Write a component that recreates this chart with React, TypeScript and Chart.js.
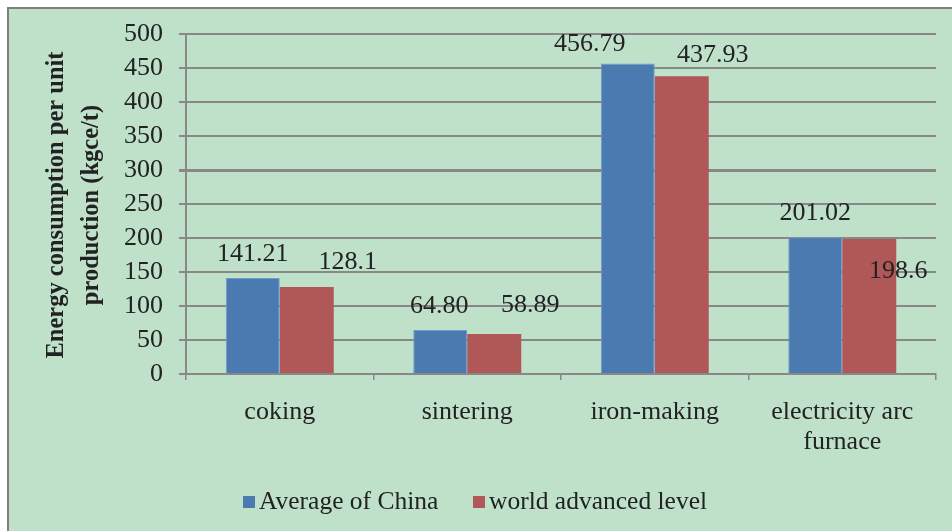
import React, { useEffect, useRef } from "react";
import { Chart, registerables } from "chart.js";

Chart.register(...registerables);

const categories: string[][] = [["coking"], ["sintering"], ["iron-making"], ["electricity arc", "furnace"]];
const seriesNames = ["Average of China", "world advanced level"];
const chinaValues = [141.21, 64.8, 456.79, 201.02];
const worldValues = [128.1, 58.89, 437.93, 198.6];
const chinaText = ["141.21", "64.80", "456.79", "201.02"];
const worldText = ["128.1", "58.89", "437.93", "198.6"];
const yMin = 0;
const yMax = 500;
const yStep = 50;
const yTitle = ["Energy consumption per unit", "production (kgce/t)"];

// label placement (style/layout, relative to bar top centre)
const chinaLabelDx = [0, -1, -38, 0];
const chinaLabelDy = [-24, -24, -19, -24];
const worldLabelDx = [41, 36, 31, 29];
const worldLabelDy = [-25, -29, -21, 32];

const BLUE = "#4a7aaf";
const RED = "#b05757";
const SERIF = '"Liberation Serif", "Times New Roman", serif';
const TEXT = "#222222";

const overlay = {
  id: "overlay",
  afterDatasetsDraw(chart: any) {
    const ctx = chart.ctx;
    ctx.save();
    // data labels
    ctx.font = `26px ${SERIF}`;
    ctx.fillStyle = TEXT;
    ctx.textAlign = "center";
    ctx.textBaseline = "middle";
    const sets = [
      { text: chinaText, dx: chinaLabelDx, dy: chinaLabelDy },
      { text: worldText, dx: worldLabelDx, dy: worldLabelDy },
    ];
    sets.forEach((s, di) => {
      const meta = chart.getDatasetMeta(di);
      meta.data.forEach((el: any, i: number) => {
        ctx.fillText(s.text[i], el.x + s.dx[i], el.y + s.dy[i]);
      });
    });
    // y title
    ctx.font = `bold 24.5px ${SERIF}`;
    ctx.fillStyle = TEXT;
    const cy = 205;
    const xs = [57, 92];
    yTitle.forEach((line, i) => {
      ctx.save();
      ctx.translate(xs[i], cy);
      ctx.rotate(-Math.PI / 2);
      ctx.textAlign = "center";
      ctx.textBaseline = "middle";
      ctx.fillText(line, 0, 0);
      ctx.restore();
    });
    // legend
    ctx.font = `25.5px ${SERIF}`;
    ctx.textAlign = "left";
    ctx.textBaseline = "alphabetic";
    const items = [
      { x: 243, color: BLUE, name: seriesNames[0] },
      { x: 473, color: RED, name: seriesNames[1] },
    ];
    items.forEach((it) => {
      ctx.fillStyle = it.color;
      ctx.fillRect(it.x, 496, 12, 12);
      ctx.fillStyle = TEXT;
      ctx.fillText(it.name, it.x + 16, 509);
    });
    ctx.restore();
  },
};

export default function App() {
  const ref = useRef<HTMLCanvasElement | null>(null);
  useEffect(() => {
    if (!ref.current) return;
    const chart = new Chart(ref.current, {
      type: "bar",
      data: {
        labels: categories,
        datasets: [
          {
            label: seriesNames[0],
            data: chinaValues,
            backgroundColor: BLUE,
            borderColor: "#6f9bcc",
            borderWidth: 1,
            categoryPercentage: 0.576,
            barPercentage: 1,
          },
          {
            label: seriesNames[1],
            data: worldValues,
            backgroundColor: RED,
            borderWidth: 0,
            categoryPercentage: 0.576,
            barPercentage: 1,
          },
        ],
      },
      options: {
        animation: false,
        responsive: false,
        devicePixelRatio: 1,
        layout: { padding: { top: 34, right: 16, left: 0, bottom: 0 } },
        plugins: { legend: { display: false }, tooltip: { enabled: false }, title: { display: false } },
        scales: {
          x: {
            afterFit(scale: any) {
              scale.height = 157;
            },
            grid: {
              drawOnChartArea: false,
              drawTicks: true,
              tickLength: 6,
              color: "#888888",
              lineWidth: 1.5,
            },
            border: { display: true, color: "#888888", width: 2 },
            ticks: {
              color: TEXT,
              font: { family: SERIF, size: 26, lineHeight: 1.12 },
              padding: 18,
              maxRotation: 0,
              autoSkip: false,
            },
          },
          y: {
            min: yMin,
            max: yMax,
            afterFit(scale: any) {
              scale.width = 186;
            },
            grid: {
              color: "#888888",
              lineWidth: (c: any) => (c.tick && c.tick.value === 300 ? 3 : 2),
              drawTicks: true,
              tickLength: 7,
            },
            border: { display: true, color: "#888888", width: 2 },
            ticks: {
              stepSize: yStep,
              autoSkip: false,
              color: TEXT,
              font: { family: SERIF, size: 26 },
              padding: 16,
            },
          },
        },
      },
      plugins: [overlay],
    });
    return () => chart.destroy();
  }, []);
  return (
    <div style={{ position: "fixed", left: 0, top: 0, width: 952, height: 531, background: "#ffffff", overflow: "hidden" }}>
      <div
        style={{
          position: "absolute",
          left: 7,
          top: 7,
          width: 960,
          height: 540,
          background: "#bfe1ca",
          borderLeft: "2px solid #808080",
          borderTop: "2px solid #808080",
        }}
      />
      <canvas ref={ref} width={952} height={531} style={{ position: "absolute", left: 0, top: 0, width: 952, height: 531 }} />
    </div>
  );
}
